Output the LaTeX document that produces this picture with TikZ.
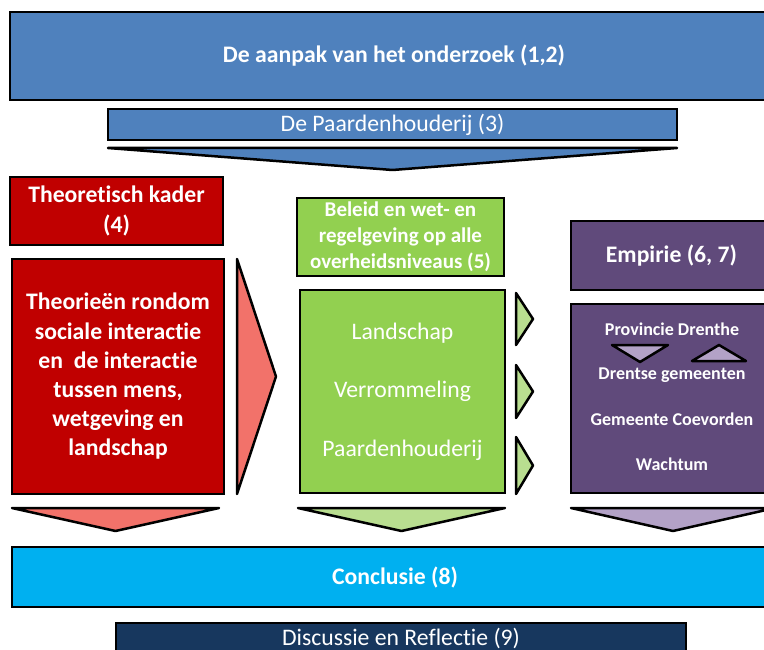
\documentclass[tikz,border=0pt]{standalone}
\usepackage{fontspec}
\setmainfont[Ligatures=NoCommon]{Carlito}
\usetikzlibrary{positioning}
\definecolor{kopblauw}{HTML}{4F81BD}
\definecolor{kaderrood}{HTML}{C00000}
\definecolor{lichtrood}{HTML}{F2726A}
\definecolor{beleidgroen}{HTML}{92D050}
\definecolor{lichtgroen}{HTML}{B9DE90}
\definecolor{empiriepaars}{HTML}{604A7B}
\definecolor{lichtpaars}{HTML}{B3A2C7}
\definecolor{conclusieblauw}{HTML}{00B0F0}
\definecolor{discussieblauw}{HTML}{17375E}
\tikzstyle{boxstyle}=[shape=rectangle,draw,line width=2.5pt,text=white,align=center,inner sep=0pt]
\tikzstyle{chevstyle}=[draw,line width=2.5pt,line join=round]
\tikzstyle{bigfont}=[font=\fontsize{23.7}{29.2}\selectfont]
\tikzstyle{boldfont}=[font=\bfseries\fontsize{23.7}{29.2}\selectfont]
\tikzstyle{midfont}=[font=\bfseries\fontsize{21}{26}\selectfont]
\tikzstyle{smallfont}=[font=\bfseries\fontsize{18}{22}\selectfont,text=white]
% chevron pointing down: x left, x right, y top, y apex, fill
\newcommand{\chevdown}[5]{ \draw[chevstyle,fill=#5] (#1,#3) -- (#2,#3) -- ({(#1+#2)/2},#4) -- cycle; }
% chevron pointing up: x left, x right, y base, y apex, fill
\newcommand{\chevup}[5]{ \draw[chevstyle,fill=#5] (#1,#3) -- (#2,#3) -- ({(#1+#2)/2},#4) -- cycle; }
% chevron pointing right: x left, x apex, y top, y bottom, fill
\newcommand{\chevright}[5]{ \draw[chevstyle,fill=#5] (#1,#3) -- (#2,{(#3+#4)/2}) -- (#1,#4) -- cycle; }
\begin{document}
\begin{tikzpicture}[x=1pt,y=-1pt]
\useasboundingbox (0,0) rectangle (764,650);
\clip (0,0) rectangle (764,650);

% top blocks
\node[boxstyle,boldfont,fill=kopblauw,minimum width=768pt,minimum height=88pt] (aanpak) at (394,56) {De aanpak van het onderzoek (1,2)};
\node[boxstyle,bigfont,fill=kopblauw,minimum width=569pt,minimum height=31pt] (paard) at (392.5,124.5) {De Paardenhouderij (3)};
\chevdown{108}{677}{148}{170}{kopblauw} %

% theorie column
\node[boxstyle,boldfont,fill=kaderrood,minimum width=213pt,minimum height=68pt] (kader) at (116.5,211) {Theoretisch kader\\(4)};
\node[boxstyle,boldfont,fill=kaderrood,minimum width=212pt,minimum height=235pt] (theorie) at (118,376.5) {Theorieën rondom\\sociale interactie\\en~\ de interactie\\tussen mens,\\wetgeving en\\landschap};
\chevright{237}{276}{259}{494}{lichtrood} %

% beleid column
\node[boxstyle,midfont,fill=beleidgroen,minimum width=207pt,minimum height=78pt] (beleid) at (400.5,237) {Beleid en wet- en\\regelgeving op alle\\overheidsniveaus (5)};
\node[boxstyle,bigfont,fill=beleidgroen,minimum width=205pt,minimum height=203pt] (thema) at (402.5,391.5) {Landschap\\[29.2pt]Verrommeling\\[29.2pt]Paardenhouderij};
\chevright{516}{533}{293}{345}{lichtgroen} %
\chevright{516}{533}{365}{418}{lichtgroen} %
\chevright{516}{533}{437}{494}{lichtgroen} %

% empirie column
\node[boxstyle,boldfont,fill=empiriepaars,minimum width=201pt,minimum height=69pt] (empirie) at (671.5,255.5) {Empirie (6, 7)};
\node[boxstyle,fill=empiriepaars,minimum width=201pt,minimum height=189pt] (niveaus) at (671.5,398.5) {};
\node[smallfont] (provincie) at (672,329) {Provincie Drenthe};
\node[smallfont] (gemeenten) at (672,375) {Drentse gemeenten};
\node[smallfont] (coevorden) at (672,419) {Gemeente Coevorden};
\node[smallfont] (wachtum) at (672,464) {Wachtum};
\chevdown{612}{668}{345}{362}{lichtpaars} %
\chevup{692}{746}{361}{345}{lichtpaars} %

% onder
\chevdown{12}{219}{508}{531}{lichtrood} %
\chevdown{298}{505}{508}{531}{lichtgroen} %
\chevdown{571}{775}{508}{531}{lichtpaars} %
\node[boxstyle,boldfont,fill=conclusieblauw,minimum width=766pt,minimum height=60pt] (conclusie) at (395,577) {Conclusie (8)};
\node[boxstyle,bigfont,fill=discussieblauw,minimum width=570pt,minimum height=31pt] (discussie) at (401,638.5) {Discussie en Reflectie (9)};
\end{tikzpicture}
\end{document}
